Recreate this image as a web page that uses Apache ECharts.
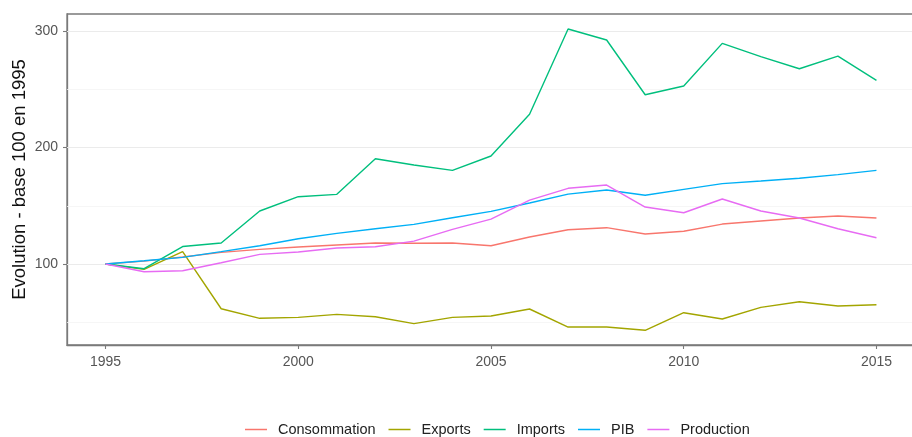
<!DOCTYPE html>
<html>
<head>
<meta charset="utf-8">
<script src="https://cdn.jsdelivr.net/npm/echarts@6/dist/echarts.min.js"></script>
<style>
html,body{margin:0;padding:0;background:#fff;}
#chart{width:912px;height:437px;}
</style>
</head>
<body>
<div id="chart"></div>
<script>
var years = [1995,1996,1997,1998,1999,2000,2001,2002,2003,2004,2005,2006,2007,2008,2009,2010,2011,2012,2013,2014,2015];
var consommation = [100,102.5,106,110,112.6,114.6,116.3,118,117.8,118,115.7,123.2,129.4,131.2,125.8,128.1,134.3,136.9,139.5,141.2,139.5];
var exportsV = [100,95.4,110.6,61.6,53.4,54.2,56.8,54.8,48.8,54.2,55.4,61.4,45.9,45.9,43.1,58.2,52.8,62.8,67.6,64,65];
var importsV = [100,96,115,118,145.5,157.8,159.8,190.4,185,180.4,192.7,228.5,301.7,292.3,245.3,252.8,289.4,278,267.6,278.5,257.7];
var pib = [100,102.8,105.7,110.6,115.7,121.7,126.3,130.3,134,139.7,145.2,152.4,160,163.5,159,164.1,169,171.2,173.6,176.7,180.4];
var production = [100,93.4,94.2,101.1,108.3,110.3,113.7,114.8,119.7,129.8,138.6,154.9,165,167.8,148.9,144,155.8,145.5,139.5,130.3,122.6];
var seriesNames = ['Consommation','Exports','Imports','PIB','Production'];
var seriesColors = ['#F8766D','#A3A500','#00BF7D','#00B0F6','#E76BF3'];
var xTicks = [1995,2000,2005,2010,2015];
var yTicks = [100,200,300];
var yMinorGrid = [50,150,250];

var values = [consommation, exportsV, importsV, pib, production];
function pairs(v){ return years.map(function(y,i){ return [y, v[i]]; }); }

var series = [{
  type:'line', data:[], silent:true, z:1,
  markLine:{
    silent:true, symbol:'none', animation:false, z:1,
    label:{show:false},
    data: yMinorGrid.map(function(v){return {yAxis:v, lineStyle:{color:'#F4F4F4',width:0.8,type:'solid'}};})
      .concat(yTicks.map(function(v){return {yAxis:v, lineStyle:{color:'#EBEBEB',width:1.1,type:'solid'}};}))
  }
}];
seriesNames.forEach(function(n,i){
  series.push({
    name:n, type:'line', data:pairs(values[i]), showSymbol:false, symbol:'none',
    lineStyle:{width:1.4, color:seriesColors[i]}, itemStyle:{color:seriesColors[i]},
    z:3+i, animation:false
  });
});

var font = 'Liberation Sans, Arial, sans-serif';
var chart = echarts.init(document.getElementById('chart'), null, {renderer:'canvas'});
chart.setOption({
  animation:false,
  backgroundColor:'#ffffff',
  grid:{left:67, top:14, width:848, height:331, outerBoundsMode:'none', containLabel:false, show:true, borderColor:'#7a7a7a', borderWidth:1.3, backgroundColor:'transparent'},
  legend:{
    data:seriesNames, top:422, left:245, padding:0, icon:'rect', itemWidth:22, itemHeight:1.5, itemGap:13,
    textStyle:{fontFamily:font, fontSize:14.5, color:'#222', padding:[0,0,0,6]}
  },
  xAxis:{
    type:'value', min:1994, max:2016,
    axisLine:{show:true, lineStyle:{color:'#7a7a7a', width:1.3}},
    axisTick:{show:true, length:4, customValues:xTicks, lineStyle:{color:'#7a7a7a', width:1.1}},
    axisLabel:{customValues:xTicks, margin:10, fontFamily:font, fontSize:14, color:'#555', formatter:function(v){return String(v);}},
    splitLine:{show:false}
  },
  yAxis:{
    type:'value', min:30.5, max:314.6,
    name:'Evolution - base 100 en 1995', nameLocation:'middle', nameGap:38, nameRotate:90, nameMoveOverlap:false,
    nameTextStyle:{fontFamily:font, fontSize:18.5, color:'#111'},
    axisLine:{show:true, lineStyle:{color:'#7a7a7a', width:1.3}},
    axisTick:{show:true, length:4, customValues:yTicks, lineStyle:{color:'#7a7a7a', width:1.1}},
    axisLabel:{customValues:yTicks, margin:9, fontFamily:font, fontSize:14, color:'#555'},
    splitLine:{show:false}
  },
  series:series
});
</script>
</body>
</html>
